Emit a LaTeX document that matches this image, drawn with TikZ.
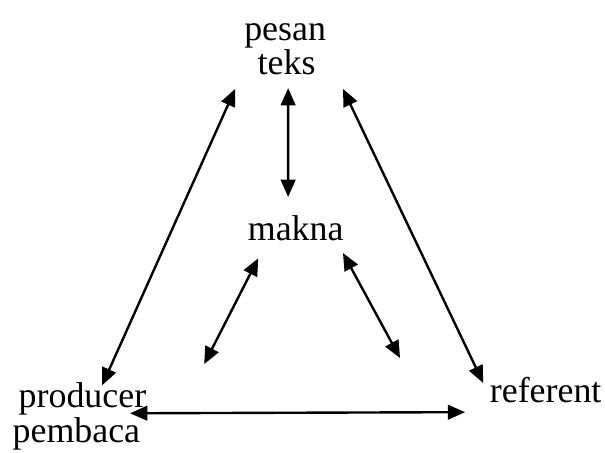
\documentclass[tikz,border=0pt]{standalone}
\usepackage{fontspec}
\setmainfont{Liberation Serif}
\usetikzlibrary{arrows.meta}

\begin{document}
\begin{tikzpicture}[
  >={Triangle[length=13pt,width=11pt]},
  word/.style={
    inner sep=0pt,
    anchor=base,
    font=\fontsize{27}{30}\selectfont
  },
  arr/.style={<->, line width=1.8pt},
]
\useasboundingbox (0,0) rectangle (16.0,-11.96);

% Words.
\node[word] (pesan) at (7.54,-1.06) {pesan};
\node[word] (teks) at (7.58,-1.98) {teks};
\node[word] (makna) at (7.82,-6.35) {makna};
\node[word] (producer) at (2.18,-10.77) {producer};
\node[word] (pembaca) at (2.02,-11.69) {pembaca};
\node[word] (referent) at (14.43,-10.64) {referent};

% Outer triangle.
\draw[arr] ([shift={(-1.36,-0.37)}]teks.base) -- ([shift={(0.52,0.58)}]producer.base);
\draw[arr] ([shift={(1.49,-0.37)}]teks.base) -- ([shift={(-1.65,0.51)}]referent.base);
\draw[arr] ([shift={(1.26,-0.16)}]producer.base) -- ([shift={(-2.13,-0.26)}]referent.base);

% Meaning in the middle.
\draw[arr] ([shift={(0.04,-0.35)}]teks.base) -- ([shift={(-0.20,1.14)}]makna.base);
\draw[arr] ([shift={(-0.99,-0.48)}]makna.base) -- ([shift={(-2.42,-3.28)}]makna.base);
\draw[arr] ([shift={(1.25,-0.34)}]makna.base) -- ([shift={(2.76,-3.12)}]makna.base);

\end{tikzpicture}
\end{document}
